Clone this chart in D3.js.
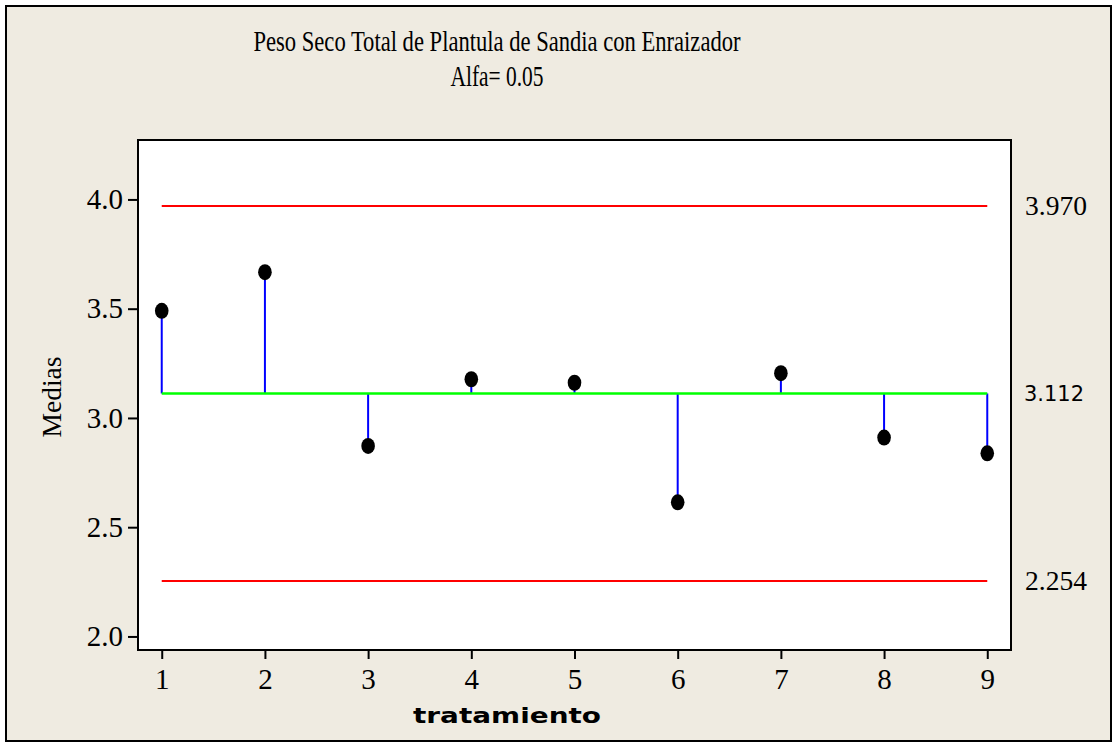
<!DOCTYPE html>
<html lang="en">
<head>
  <meta charset="UTF-8">
  <title>Peso Seco Total de Plantula de Sandia con Enraizador</title>
  <style>
    body { margin: 0; background: #fff; }
    svg text { font-family: "Liberation Serif", "Times New Roman", serif; fill: #000; }
  </style>
</head>
<body>
  <svg id="chart" width="1118" height="748"></svg>

  <script src="https://d3js.org/d3.v7.min.js"></script>
  <script>
    // values
    const tratamientos = [1, 2, 3, 4, 5, 6, 7, 8, 9];
    const medias = [3.49, 3.667, 2.872, 3.177, 3.161, 2.614, 3.205, 2.91, 2.838];
    const limites = [3.970, 2.254];
    const centro = 3.112;
    const yTicks = [2.0, 2.5, 3.0, 3.5, 4.0];

    const svg = d3.select("#chart");

    // outer frame
    svg.append("rect")
      .attr("x", 6).attr("y", 6)
      .attr("width", 1105).attr("height", 735)
      .attr("fill", "#efebe1")
      .attr("stroke", "#000")
      .attr("stroke-width", 2);

    const plot = { left: 138, right: 1011, top: 140, bottom: 650 };

    const x = d3.scaleLinear()
      .domain([0.77, 9.23])
      .range([plot.left, plot.right]);

    const y = d3.scaleLinear()
      .domain([1.938, 4.272])
      .range([plot.bottom, plot.top]);

    svg.append("rect")
      .attr("x", plot.left).attr("y", plot.top)
      .attr("width", plot.right - plot.left)
      .attr("height", plot.bottom - plot.top)
      .attr("fill", "#fff")
      .attr("stroke", "#000")
      .attr("stroke-width", 2);

    // axes
    const yAxis = svg.append("g")
      .attr("transform", `translate(${plot.left - 1},0)`)
      .call(d3.axisLeft(y).tickValues(yTicks).tickFormat(d3.format(".1f")).tickSize(9).tickPadding(5));

    const xAxis = svg.append("g")
      .attr("transform", `translate(0,${plot.bottom + 1})`)
      .call(d3.axisBottom(x).tickValues(tratamientos).tickFormat(d3.format("d")).tickSize(8).tickPadding(9));

    [yAxis, xAxis].forEach(g => {
      g.select(".domain").remove();
      g.selectAll(".tick line").attr("stroke", "#000").attr("stroke-width", 2);
      g.selectAll(".tick text")
        .style("font-family", "'Liberation Serif', serif")
        .style("font-size", "29px")
        .attr("fill", "#000");
    });

    // limit lines
    svg.selectAll(".limite")
      .data(limites)
      .enter()
      .append("line")
      .attr("class", "limite")
      .attr("x1", x(1)).attr("x2", x(9))
      .attr("y1", d => y(d)).attr("y2", d => y(d))
      .attr("stroke", "#ff0000")
      .attr("stroke-width", 2);

    // stems
    svg.selectAll(".stem")
      .data(medias)
      .enter()
      .append("line")
      .attr("class", "stem")
      .attr("x1", (d, i) => x(tratamientos[i]))
      .attr("x2", (d, i) => x(tratamientos[i]))
      .attr("y1", y(centro))
      .attr("y2", d => y(d))
      .attr("stroke", "#0000ff")
      .attr("stroke-width", 2);

    // center line
    svg.append("line")
      .attr("x1", x(1)).attr("x2", x(9))
      .attr("y1", y(centro)).attr("y2", y(centro))
      .attr("stroke", "#00ff00")
      .attr("stroke-width", 2.5);

    // points
    svg.selectAll(".punto")
      .data(medias)
      .enter()
      .append("ellipse")
      .attr("class", "punto")
      .attr("cx", (d, i) => x(tratamientos[i]))
      .attr("cy", d => y(d))
      .attr("rx", 6.8)
      .attr("ry", 8)
      .attr("fill", "#000");

    // right-hand labels
    svg.selectAll(".limLabel")
      .data(limites)
      .enter()
      .append("text")
      .attr("class", "limLabel")
      .attr("x", 1025)
      .attr("y", d => y(d))
      .attr("dy", "0.35em")
      .attr("textLength", 62)
      .attr("lengthAdjust", "spacingAndGlyphs")
      .style("font-size", "27px")
      .text(d => d3.format(".3f")(d));

    svg.append("text")
      .attr("x", 1024)
      .attr("y", y(centro))
      .attr("dy", "0.36em")
      .attr("textLength", 60)
      .attr("lengthAdjust", "spacingAndGlyphs")
      .style("font-family", "'DejaVu Sans', sans-serif")
      .style("font-size", "22px")
      .text(d3.format(".3f")(centro));

    // titles
    svg.append("text")
      .attr("x", 497).attr("y", 51)
      .attr("text-anchor", "middle")
      .attr("textLength", 487)
      .attr("lengthAdjust", "spacingAndGlyphs")
      .style("font-size", "30px")
      .text("Peso Seco Total de Plantula de Sandia con Enraizador");

    svg.append("text")
      .attr("x", 497).attr("y", 86)
      .attr("text-anchor", "middle")
      .attr("textLength", 93)
      .attr("lengthAdjust", "spacingAndGlyphs")
      .style("font-size", "29px")
      .text("Alfa= 0.05");

    svg.append("text")
      .attr("transform", "rotate(-90)")
      .attr("x", -397).attr("y", 61)
      .attr("text-anchor", "middle")
      .attr("textLength", 81)
      .attr("lengthAdjust", "spacingAndGlyphs")
      .style("font-size", "28px")
      .text("Medias");

    svg.append("text")
      .attr("x", 507).attr("y", 723)
      .attr("text-anchor", "middle")
      .attr("textLength", 188)
      .attr("lengthAdjust", "spacingAndGlyphs")
      .style("font-family", "'DejaVu Sans', sans-serif")
      .style("font-weight", "bold")
      .style("font-size", "21px")
      .text("tratamiento");
  </script>
</body>
</html>
